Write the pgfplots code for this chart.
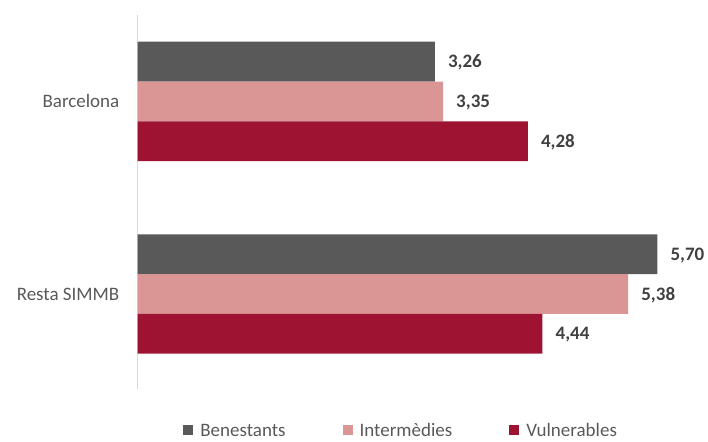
\documentclass[border=0pt]{standalone}
\usepackage{pgfplots}
\pgfplotsset{compat=1.18}
\usepackage{fontspec}
\setmainfont{Carlito}
\definecolor{cBen}{HTML}{595959}
\definecolor{cInt}{HTML}{DA9694}
\definecolor{cVul}{HTML}{9E1232}
\definecolor{cLab}{HTML}{404040}
\definecolor{cTick}{HTML}{595959}
\definecolor{cAxis}{HTML}{D9D9D9}
\begin{document}
\fontsize{19pt}{23pt}\selectfont
\begin{tikzpicture}
\begin{axis}[
  at={(137.5pt,52pt)}, anchor=south west,
  scale only axis, width=547.2pt, height=374pt,
  xbar, xmin=0, xmax=6, ymin=-0.4935, ymax=1.449,
  axis x line=none, axis y line*=left,
  axis line style={-, draw=cAxis, line width=1.3pt},
  xtick=\empty, ytick={0,1}, yticklabels={Resta SIMMB, Barcelona},
  major tick length=0pt,
  yticklabel style={anchor=base east, inner sep=0pt, xshift=-18pt, yshift=-6.1pt, text=cTick},
  bar width=0.2068,
  /pgf/number format/.cd, fixed, fixed zerofill, precision=2, use comma, assume math mode=true,
  /pgfplots/.cd,
  nodes near coords,
  every node near coord/.append style={font=\bfseries, text=cLab, anchor=base west, inner sep=0pt, xshift=13pt, yshift=-6.1pt},
  legend columns=3,
  legend image code/.code={\fill[#1] (0pt,1.1pt) rectangle (10pt,11.1pt);},
  legend style={draw=none, fill=none, at={(0.4800,-0.1125)}, anchor=center,
    nodes={inner sep=0pt, text=cTick, anchor=base west},
    /tikz/every odd column/.append style={column sep=7pt},
    /tikz/every even column/.append style={column sep=57pt}},
]
\addplot[fill=cBen, draw=none, bar shift=0.2068] coordinates {(3.26,1) (5.70,0)};
\addplot[fill=cInt, draw=none, bar shift=0] coordinates {(3.35,1) (5.38,0)};
\addplot[fill=cVul, draw=none, bar shift=-0.2068] coordinates {(4.28,1) (4.44,0)};
\legend{Benestants, Intermèdies, Vulnerables}
\end{axis}
\pgfresetboundingbox
\path[use as bounding box] (0pt,0pt) rectangle (708pt,441pt);
\end{tikzpicture}
\end{document}
